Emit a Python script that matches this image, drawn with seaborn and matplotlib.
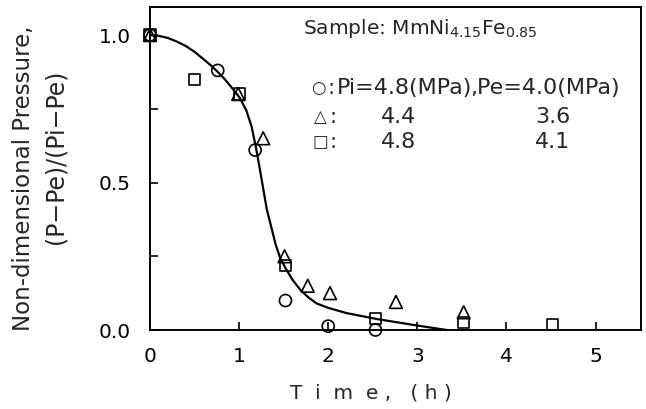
import matplotlib
matplotlib.use("Agg")
import matplotlib.pyplot as plt
import seaborn as sns
from matplotlib.ticker import MultipleLocator

sns.set_theme(style="white")
plt.rcParams['font.family'] = ['DejaVu Sans']
plt.rcParams['mathtext.fontset'] = 'dejavusans'

# Data
circ_t = [0.0, 0.76, 1.18, 1.52, 2.0, 2.53]
circ_p = [1.0, 0.88, 0.61, 0.10, 0.013, 0.0]

tri_t = [0.0, 0.99, 1.27, 1.51, 1.77, 2.02, 2.76, 3.52]
tri_p = [1.0, 0.80, 0.65, 0.25, 0.15, 0.125, 0.095, 0.06]

sq_t = [0.0, 0.5, 1.0, 1.52, 2.53, 3.52, 4.52]
sq_p = [1.0, 0.85, 0.80, 0.22, 0.04, 0.025, 0.02]

curve_t = [0.0, 0.1, 0.2, 0.3, 0.4, 0.5, 0.6, 0.68, 0.76, 0.84, 0.9, 0.96, 1.01,
           1.08, 1.14, 1.19, 1.23, 1.27, 1.31, 1.36, 1.41, 1.46, 1.52, 1.6,
           1.69, 1.78, 1.87, 2.0, 2.21, 2.55, 2.96, 3.33]
curve_p = [1.0, 0.997, 0.99, 0.978, 0.963, 0.943, 0.918, 0.898, 0.875, 0.85, 0.828,
           0.806, 0.786, 0.745, 0.69, 0.617, 0.55, 0.48, 0.41, 0.35, 0.29, 0.245,
           0.21, 0.17, 0.135, 0.11, 0.09, 0.075, 0.057, 0.037, 0.017, 0.0]

W, H = 646, 409
fig = plt.figure(figsize=(W / 100, H / 100), dpi=100)
ax = fig.add_axes([150 / W, 1 - 330 / H, 491 / W, 323 / H])

sns.lineplot(x=curve_t, y=curve_p, ax=ax, color="black", linewidth=1.6, sort=False)

mk = dict(facecolor="none", edgecolor="black", linewidth=1.2, clip_on=False, zorder=5)
sns.scatterplot(x=circ_t, y=circ_p, ax=ax, marker="o", s=75, **mk)
sns.scatterplot(x=tri_t, y=tri_p, ax=ax, marker="^", s=85, **mk)
sns.scatterplot(x=sq_t, y=sq_p, ax=ax, marker="s", s=65, **mk)

ax.set_xlim(0, 5.51)
ax.set_ylim(0, 1.095)
ax.set_xticks([0, 1, 2, 3, 4, 5])
ax.set_yticks([0.0, 0.5, 1.0])
ax.set_yticklabels(["0.0", "0.5", "1.0"])
ax.yaxis.set_minor_locator(MultipleLocator(0.25))
ax.tick_params(axis="both", which="both", direction="in", length=6, width=1.2,
               colors="black", labelsize=14.5, left=True, bottom=True)
ax.tick_params(axis="x", pad=12)
ax.tick_params(axis="y", pad=14)
for s in ax.spines.values():
    s.set_visible(True)
    s.set_color("black")
    s.set_linewidth(1.4)


def ftext(px, py, s, **kw):
    fig.text(px / W, 1 - py / H, s, **kw)


# axis titles
ftext(371, 393, "T  i  m  e ,   ( h )", fontsize=14.5, ha="center", va="center")
ftext(24, 178, "Non-dimensional Pressure,", fontsize=16.5, rotation=90, ha="center", va="center")
ftext(56, 157, "(P\u2212Pe)/(Pi\u2212Pe)", fontsize=17, rotation=90, ha="center", va="center")

# annotation block
ftext(303, 29, r"Sample: MmNi$_{\mathregular{4.15}}$Fe$_{\mathregular{0.85}}$",
      fontsize=14.5, ha="left", va="center")
ftext(318, 88, "\u25cb", fontsize=12, ha="center", va="center")
ftext(331, 88, ":", fontsize=15, ha="center", va="center")
ftext(337, 88, "Pi=4.8(MPa)", fontsize=16, ha="left", va="center")
ftext(470, 88, ",Pe=4.0(MPa)", fontsize=16, ha="left", va="center")
ftext(320, 117, "\u25b3", fontsize=12, ha="center", va="center")
ftext(333, 117, ":", fontsize=15, ha="center", va="center")
ftext(320, 142, "\u25a1", fontsize=12, ha="center", va="center")
ftext(333, 142, ":", fontsize=15, ha="center", va="center")
ftext(399, 117, "4.4", fontsize=16, ha="center", va="center")
ftext(399, 142, "4.8", fontsize=16, ha="center", va="center")
ftext(553, 117, "3.6", fontsize=16, ha="center", va="center")
ftext(553, 142, "4.1", fontsize=16, ha="center", va="center")

fig.savefig("out.png", dpi=100)
